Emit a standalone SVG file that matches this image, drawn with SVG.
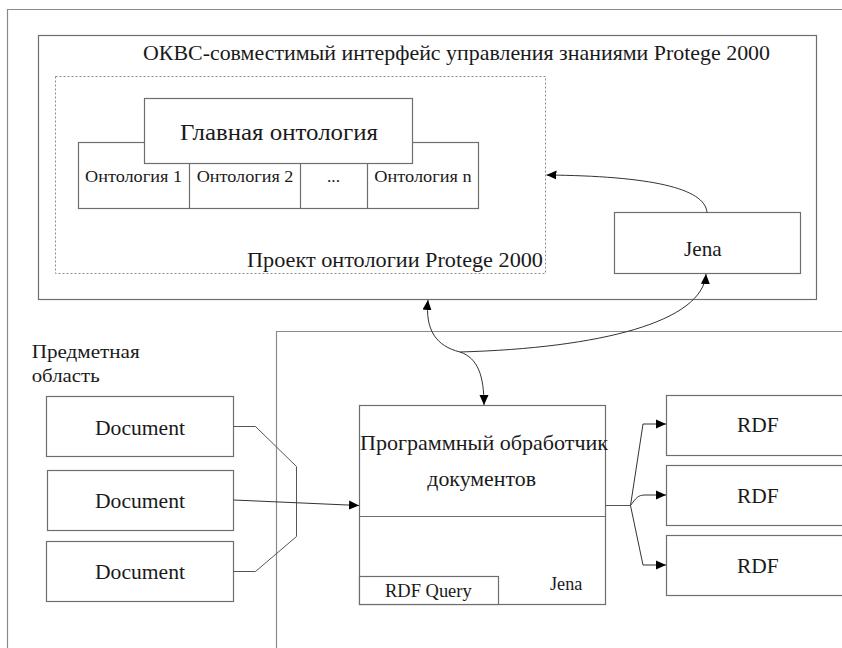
<svg xmlns="http://www.w3.org/2000/svg" width="842" height="648" viewBox="0 0 842 648">
<style>
.box{fill:#fff;stroke:#6e6e6e;stroke-width:1.2}
.frame{fill:none;stroke:#8a8a8a;stroke-width:1.2}
.dash{fill:none;stroke:#8a8a8a;stroke-width:1;stroke-dasharray:2,2}
.t{fill:#1a1a1a}
.conn{fill:none;stroke:#555;stroke-width:1}
.arr{fill:none;stroke:#333;stroke-width:1;marker-end:url(#ah)}
</style>
<defs>
<marker id="ah" viewBox="0 0 10 10" refX="10" refY="5" markerWidth="10" markerHeight="10" markerUnits="userSpaceOnUse" orient="auto">
<path d="M0,0.5 L10,5 L0,9.5 z" fill="#000"/>
</marker>
</defs>
<rect width="842" height="648" fill="#fff"/>
<g font-family="'Liberation Serif', 'Times New Roman', 'DejaVu Serif', serif" lengthAdjust="spacingAndGlyphs">
<g id="outer-frame">
<path class="frame" d="M7.5,648 V9.5 H842"/>
</g>
<g id="interface-box">
<rect class="box" x="38.5" y="35.5" width="778" height="264"/>
<text class="t" x="143" y="60" font-size="21" textLength="627" lengthAdjust="spacingAndGlyphs">ОКВС-совместимый интерфейс управления знаниями Protege 2000</text>
</g>
<g id="ontology-project">
<rect class="dash" x="55.5" y="76.5" width="490" height="197"/>
<text class="t" x="247" y="267" font-size="21" textLength="296" lengthAdjust="spacingAndGlyphs">Проект онтологии Protege 2000</text>
</g>
<g id="ontologies">
<rect class="box" x="78.5" y="142.5" width="400" height="66"/>
<path class="box" d="M189.5,142.5 V208.5 M300.5,142.5 V208.5 M367.5,142.5 V208.5"/>
<text class="t" x="85" y="182" font-size="17" textLength="97" lengthAdjust="spacingAndGlyphs">Онтология 1</text>
<text class="t" x="196.7" y="182" font-size="17" textLength="96.7" lengthAdjust="spacingAndGlyphs">Онтология 2</text>
<text class="t" x="327" y="182" font-size="17" textLength="13" lengthAdjust="spacingAndGlyphs">...</text>
<text class="t" x="374.3" y="182" font-size="17" textLength="97.4" lengthAdjust="spacingAndGlyphs">Онтология n</text>
</g>
<g id="main-ontology">
<rect class="box" x="144.5" y="98.5" width="268" height="65"/>
<text class="t" x="180" y="140" font-size="24" textLength="198" lengthAdjust="spacingAndGlyphs">Главная онтология</text>
</g>
<g id="jena-top">
<rect class="box" x="614.5" y="212.5" width="186" height="61"/>
<text class="t" x="684" y="256" font-size="21" textLength="37.7" lengthAdjust="spacingAndGlyphs">Jena</text>
</g>
<g id="lower-frame">
<path class="frame" d="M276.5,648 V331.5 H842"/>
</g>
<g id="subject-area">
<text class="t" x="31.7" y="358" font-size="18" textLength="108" lengthAdjust="spacingAndGlyphs">Предметная</text>
<text class="t" x="31.7" y="382" font-size="18" textLength="68" lengthAdjust="spacingAndGlyphs">область</text>
</g>
<g id="doc1">
<rect class="box" x="46.5" y="396.5" width="187" height="60"/>
<text class="t" x="95" y="435" font-size="21" textLength="90" lengthAdjust="spacingAndGlyphs">Document</text>
</g>
<g id="doc2">
<rect class="box" x="47.5" y="470.5" width="186" height="60"/>
<text class="t" x="95" y="508" font-size="21" textLength="90" lengthAdjust="spacingAndGlyphs">Document</text>
</g>
<g id="doc3">
<rect class="box" x="46.5" y="541.5" width="187" height="60"/>
<text class="t" x="95" y="579" font-size="21" textLength="90" lengthAdjust="spacingAndGlyphs">Document</text>
</g>
<g id="processor">
<rect class="box" x="359.5" y="405.5" width="246" height="199"/>
<path class="box" d="M359.5,516.5 H605.5"/>
<rect class="box" x="359.5" y="576.5" width="139" height="28"/>
<text class="t" x="360" y="450" font-size="22" textLength="248" lengthAdjust="spacingAndGlyphs">Программный обработчик</text>
<text class="t" x="427.3" y="486" font-size="22" textLength="108.7" lengthAdjust="spacingAndGlyphs">документов</text>
<text class="t" x="385" y="597" font-size="18" textLength="86.7" lengthAdjust="spacingAndGlyphs">RDF Query</text>
<text class="t" x="550" y="590" font-size="18" textLength="32.3" lengthAdjust="spacingAndGlyphs">Jena</text>
</g>
<g id="rdf1">
<rect class="box" x="666.5" y="395.5" width="180" height="60"/>
<text class="t" x="737" y="432" font-size="21" textLength="41.7" lengthAdjust="spacingAndGlyphs">RDF</text>
</g>
<g id="rdf2">
<rect class="box" x="666.5" y="465.5" width="180" height="60"/>
<text class="t" x="737" y="503" font-size="21" textLength="41.7" lengthAdjust="spacingAndGlyphs">RDF</text>
</g>
<g id="rdf3">
<rect class="box" x="666.5" y="535.5" width="180" height="60"/>
<text class="t" x="737" y="573" font-size="21" textLength="41.7" lengthAdjust="spacingAndGlyphs">RDF</text>
</g>
</g>
<g id="connectors">
<path class="arr" d="M707,212.5 C705,188 650,176 546.5,175"/>
<path class="arr" d="M460,352 C436,346 425,330 428,300"/>
<path class="arr" d="M460,352 C478,358 484,376 484,405"/>
<path class="arr" d="M460,352 C600,348 703,322 706,274"/>
<path class="conn" d="M233.5,426.5 H255.5 L296.5,466.5 V536.5 L255.5,571.5 H233.5"/>
<path class="arr" d="M233.5,500 L359,505.5"/>
<path class="conn" d="M605.5,505.5 H630.5"/>
<path class="arr" d="M630.5,505.5 L643,424 H666"/>
<path class="arr" d="M630.5,505.5 C636,498 638,495 645,495 H666"/>
<path class="arr" d="M630.5,505.5 L643,565 H666"/>
</g>
</svg>
